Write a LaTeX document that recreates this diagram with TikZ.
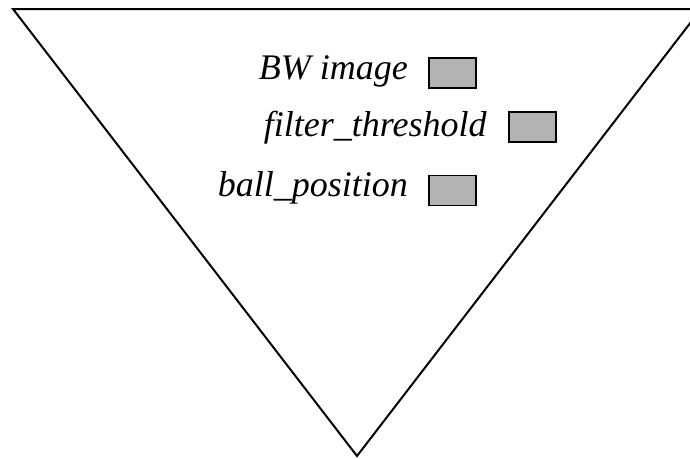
\documentclass[tikz,border=0pt]{standalone}
\usepackage{fontspec}
\newfontfamily\labelfont{Liberation Serif Italic}[Ligatures=NoCommon]
\definecolor{slotgray}{RGB}{179,179,179}
\begin{document}
\begin{tikzpicture}[x=1pt,y=-1pt,
  lbl/.style={inner sep=0pt,anchor=base east,font=\labelfont\fontsize{36}{40}\selectfont},
  slot/.style={draw=black,line width=1.5pt,fill=slotgray,anchor=north west,
    minimum width=47pt,minimum height=30pt,inner sep=0pt,outer sep=0pt}]
  \useasboundingbox (0,0) rectangle (690,458);
  \begin{scope}
    \clip (0,0) rectangle (690,458);
    % inverted triangle, its right corner runs past the edge
    \draw[line width=2pt,line join=miter] (13,9) -- (701,9) -- (357,456) -- cycle;
  \end{scope}
  % labelled slots
  \node[lbl] (bw) at (408,79.3) {BW image};
  \node[slot] (bwslot) at (429.2,57.8) {};
  \node[lbl] (ft) at (486.7,136.7) {filter\_threshold};
  \node[slot] (ftslot) at (509.2,112.2) {};
  \node[lbl] (bp) at (408,196.7) {ball\_position};
  \node[slot] (bpslot) at (429.2,175.5) {};
\end{tikzpicture}
\end{document}
